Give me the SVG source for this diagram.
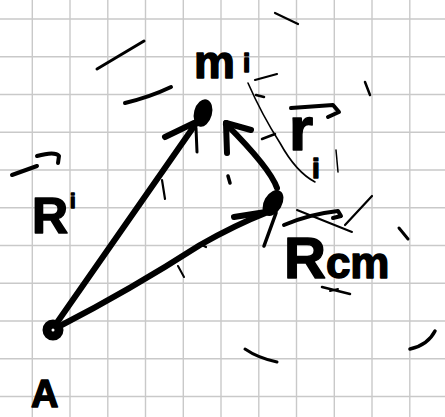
<svg xmlns="http://www.w3.org/2000/svg" width="445" height="417" viewBox="0 0 445 417">
<style>
.grid line{stroke:#c9c9c9;stroke-width:1.4}
.ink{fill:none;stroke:#000;stroke-linecap:round;stroke-linejoin:round}
.thick{stroke-width:6}
.med{stroke-width:4}
.thin{stroke-width:1.6}
.lbl{font-family:"Liberation Sans",Arial,sans-serif;font-weight:bold;fill:#000;stroke:#000;stroke-width:1.5;stroke-linejoin:round}
</style>
<rect width="445" height="417" fill="#fff"/>
<g class="grid">
<line x1="32.3" y1="0" x2="32.3" y2="417"/><line x1="70" y1="0" x2="70" y2="417"/><line x1="107.8" y1="0" x2="107.8" y2="417"/><line x1="145.5" y1="0" x2="145.5" y2="417"/><line x1="183.3" y1="0" x2="183.3" y2="417"/><line x1="221" y1="0" x2="221" y2="417"/><line x1="258.8" y1="0" x2="258.8" y2="417"/><line x1="296.5" y1="0" x2="296.5" y2="417"/><line x1="334.3" y1="0" x2="334.3" y2="417"/><line x1="372" y1="0" x2="372" y2="417"/><line x1="409.8" y1="0" x2="409.8" y2="417"/>
<line x1="0" y1="19" x2="445" y2="19"/><line x1="0" y1="56.8" x2="445" y2="56.8"/><line x1="0" y1="94.5" x2="445" y2="94.5"/><line x1="0" y1="132.3" x2="445" y2="132.3"/><line x1="0" y1="170" x2="445" y2="170"/><line x1="0" y1="207.8" x2="445" y2="207.8"/><line x1="0" y1="245.5" x2="445" y2="245.5"/><line x1="0" y1="283.3" x2="445" y2="283.3"/><line x1="0" y1="321" x2="445" y2="321"/><line x1="0" y1="358.8" x2="445" y2="358.8"/><line x1="0" y1="396.5" x2="445" y2="396.5"/>
</g>
<g id="strays" class="ink">
<path d="M97 69 L144 41" style="stroke-width:3"/>
<path class="med" d="M125 103 Q150 97 171 87"/>
<path d="M275 13 L298 24" style="stroke-width:2.2"/>
<path d="M255 80 L277 74" style="stroke-width:2.2"/>
<path d="M365 82 L370 95" style="stroke-width:2.5"/>
<path d="M399 228 L408 239" style="stroke-width:3"/>
<path d="M245 349 Q258 358 277 362" style="stroke-width:3"/>
<path d="M410 349 Q428 345 435 331" style="stroke-width:3.5"/>
<path d="M322 287 L350 294" style="stroke-width:2.5"/>
<path d="M330 291 L338 289" style="stroke-width:2"/>
<path d="M162 180 L165 199" style="stroke-width:2.2"/>
<path d="M228 176 L230 183" style="stroke-width:3.5"/>
<path d="M200 244 L206 247" style="stroke-width:2.2"/>
<path d="M178 266 L184 277" style="stroke-width:2"/>
<path d="M336 150 L338 172" style="stroke-width:1.5"/>
<path d="M65 322 L77 316" style="stroke-width:1.2"/>
<path class="thin" d="M248 83 Q262 115 280 143 Q296 172 315 182"/>
<path d="M256 95 L264 97" style="stroke-width:2.5"/>
<path d="M262 139 L275 134" style="stroke-width:2.5"/>
<path d="M345 225 L372 196" style="stroke-width:2.2"/>
<path d="M297 210 L352 232" style="stroke-width:2"/>
</g>
<g id="connectors" class="ink">
<path class="thick" d="M56 324 L197 122"/>
<path class="thick" d="M165 137 L194 123"/>
<path d="M196 128 L197 152" style="stroke-width:3"/>
<path class="thick" d="M58 327 Q130 290 200 245 Q235 225 268 212"/>
<path class="thick" d="M234 217 L272 211"/>
<path d="M276 213 L264 246" style="stroke-width:3.5"/>
<path class="thick" d="M277 188 Q270 168 226 124"/>
<path class="thick" d="M226 123 L227 153"/>
<path class="thick" d="M226 123 L251 130"/>
</g>
<g id="origin"><circle cx="53" cy="330" r="6" fill="none" stroke="#000" stroke-width="9"/></g>
<g id="mass"><ellipse cx="203" cy="113" rx="9" ry="14" transform="rotate(15 203 113)" fill="#000"/></g>
<g id="cm"><ellipse cx="273" cy="203" rx="9" ry="14" transform="rotate(30 273 203)" fill="#000"/></g>
<g id="labels">
<text class="lbl" x="194" y="78" font-size="46">m</text>
<text class="lbl" x="243" y="72" font-size="26">i</text>
<path class="ink med" d="M12 175 L37 166"/>
<path class="ink med" d="M37 156 Q55 151 59 156 L58 163"/>
<text class="lbl" x="32" y="233" font-size="50">R</text>
<text class="lbl" x="70" y="208" font-size="20">i</text>
<path class="ink med" d="M291 108 L333 105 L339 112 L328 117"/>
<text class="lbl" x="289" y="150" font-size="62">r</text>
<text class="lbl" x="312" y="178" font-size="28">i</text>
<path class="ink med" d="M284 225 Q310 214 338 211 L341 216 L333 218"/>
<text class="lbl" x="284" y="278" font-size="58">R<tspan font-size="44">cm</tspan></text>
<text class="lbl" x="31" y="407" font-size="38">A</text>
</g>
</svg>
